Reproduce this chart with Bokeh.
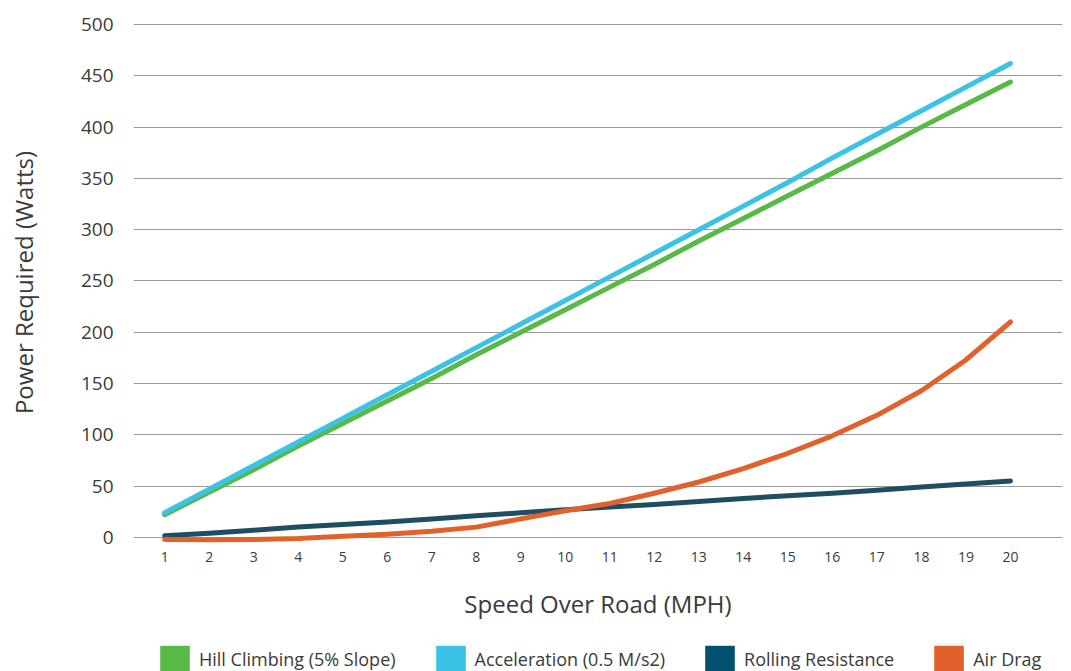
from bokeh.plotting import figure
from bokeh.layouts import column
from bokeh.models import Range1d, FixedTicker, Legend, LegendItem, ColumnDataSource
from bokeh.embed import file_html
from bokeh.resources import INLINE

speed = list(range(1, 21))
hill_climbing = [22, 44, 66, 89, 111, 133, 155, 178, 200, 222, 244, 266, 289, 311, 333, 355, 377, 400, 422, 444]
acceleration = [24, 47, 70, 93, 116, 139, 162, 185, 208, 231, 254, 277, 300, 323, 346, 370, 393, 416, 439, 462]
rolling_resistance = [1.5, 4, 7, 10, 12.5, 15, 18, 21, 24, 27, 29.5, 32, 35, 38, 40.5, 43, 46, 49, 52, 55]
air_drag = [-2, -2.5, -2, -1, 1, 3, 6, 10, 18, 26, 33, 43, 54, 67, 82, 99, 119, 143, 173, 210]

series_names = ["Hill Climbing (5% Slope)", "Acceleration (0.5 M/s2)", "Rolling Resistance", "Air Drag"]
series_values = [hill_climbing, acceleration, rolling_resistance, air_drag]
line_colors = ["#58b947", "#3ac3e5", "#1f4d61", "#e0612b"]
legend_colors = ["#58b947", "#3ac3e5", "#00506f", "#e0612b"]
y_ticks = [0, 50, 100, 150, 200, 250, 300, 350, 400, 450, 500]

FONT = "Open Sans"
TXT = "#3a3a3a"

p = figure(frame_width=929, frame_height=520, output_backend="svg", toolbar_location=None,
           x_range=Range1d(0.30, 21.17), y_range=Range1d(-5, 502),
           min_border_left=133, min_border_right=1, min_border_top=22, min_border_bottom=78)
p.outline_line_color = None
p.background_fill_color = "white"

order = [2, 3, 0, 1]
for i in order:
    p.line(speed, series_values[i], line_color=line_colors[i], line_width=5, line_cap="round", line_join="round")

p.xgrid.grid_line_color = None
p.ygrid.grid_line_color = "#9a9a9a"
p.ygrid.grid_line_width = 1
p.ygrid.ticker = FixedTicker(ticks=y_ticks)

p.yaxis.ticker = FixedTicker(ticks=y_ticks)
p.xaxis.ticker = FixedTicker(ticks=speed)

for ax in (p.xaxis[0], p.yaxis[0]):
    ax.axis_line_color = None
    ax.major_tick_line_color = None
    ax.minor_tick_line_color = None
    ax.major_label_text_font = FONT
    ax.major_label_text_color = TXT
    ax.axis_label_text_font = FONT
    ax.axis_label_text_color = TXT
    ax.axis_label_text_font_style = "normal"

p.yaxis.axis_label = "Power Required (Watts)"
p.yaxis.major_label_text_font_size = "19px"
p.yaxis.axis_label_text_font_size = "24px"
p.yaxis.major_label_standoff = 14
p.yaxis.axis_label_standoff = 38

p.xaxis.axis_label = "Speed Over Road (MPH)"
p.xaxis.major_label_text_font_size = "14px"
p.xaxis.axis_label_text_font_size = "24px"
p.xaxis.major_label_standoff = 3
p.xaxis.axis_label_standoff = 22

# legend strip below the chart
lg = figure(width=1063, height=51, output_backend="svg", toolbar_location=None,
            x_range=Range1d(0, 1), y_range=Range1d(0, 1),
            min_border_left=0, min_border_right=0, min_border_top=0, min_border_bottom=0)
lg.axis.visible = False
lg.grid.visible = False
lg.outline_line_color = None

nan = float("nan")
legend_items = []
for name, col in zip(series_names, legend_colors):
    src = ColumnDataSource(dict(l=[nan], r=[nan], t=[nan], b=[nan]))
    r = lg.quad(left="l", right="r", top="t", bottom="b", source=src, fill_color=col, line_color=None)
    legend_items.append(LegendItem(label=name, renderers=[r]))

legend = Legend(items=legend_items, orientation="horizontal", location=(23, -2),
                glyph_width=37, glyph_height=33, label_text_font=FONT, label_text_font_size="18px",
                label_text_color=TXT, spacing=36, label_standoff=6, padding=0, margin=0,
                border_line_alpha=0, background_fill_alpha=0)
lg.add_layout(legend, "center")

layout = column(p, lg, spacing=0)
open("out.html", "w").write(file_html(layout, INLINE))
